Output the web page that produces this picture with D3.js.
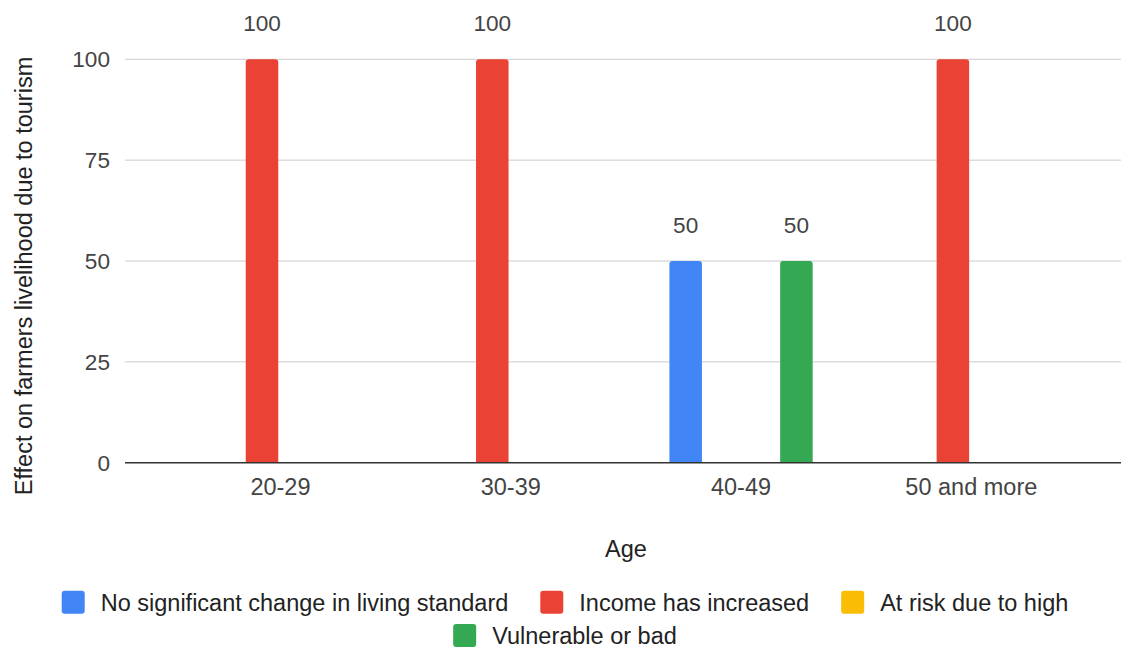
<!DOCTYPE html>
<html>
<head>
<meta charset="utf-8">
<script src="https://cdn.jsdelivr.net/npm/d3@7"></script>
<style>
  html, body { margin: 0; padding: 0; background: #fff; }
  svg { display: block; font-family: "Liberation Sans", Arial, sans-serif; }
</style>
</head>
<body>
<svg id="chart" width="1121" height="651"></svg>
<script>
// ---- data ----
const categories = ["20-29", "30-39", "40-49", "50 and more"];
const seriesNames = ["No significant change in living standard", "Income has increased", "At risk due to high", "Vulnerable or bad"];
const seriesColors = ["#4285f4", "#ea4335", "#fbbc04", "#34a853"];
const noChange   = [0, 0, 50, 0];
const incomeUp   = [100, 100, 0, 100];
const atRisk     = [0, 0, 0, 0];
const vulnerable = [0, 0, 50, 0];
const yTicks = [0, 25, 50, 75, 100];
const xTitle = "Age";
const yTitle = "Effect on farmers livelihood due to tourism";

const seriesValues = [noChange, incomeUp, atRisk, vulnerable];

// ---- layout ----
const svg = d3.select("#chart");
const FS = 22.6, FS_T = 23.5;
const plotLeft = 125, plotRight = 1121, plotTop = 59.3, plotBottom = 462.7;

const x0 = d3.scaleBand().domain(categories).range([165.3, 1086.5])
  .paddingInner(0.378).paddingOuter(0.189);
const x1 = d3.scaleBand().domain(d3.range(seriesNames.length)).range([0, x0.bandwidth()])
  .paddingInner(0.119).paddingOuter(0);
const y = d3.scaleLinear().domain([0, 100]).range([plotBottom, plotTop]);

// gridlines
svg.append("g").selectAll("line").data(yTicks.filter(d => d !== 0)).join("line")
  .attr("x1", plotLeft).attr("x2", plotRight)
  .attr("y1", d => y(d)).attr("y2", d => y(d))
  .attr("stroke", "#cccccc").attr("stroke-width", 1);

// y tick labels
svg.append("g").selectAll("text").data(yTicks).join("text")
  .attr("x", 110).attr("y", d => y(d)).attr("dy", "0.36em")
  .attr("text-anchor", "end").attr("font-size", FS).attr("fill", "#444")
  .text(d => d);

// bars
function barPath(x, yTop, w, h, r) {
  if (h <= 0) return "";
  r = Math.min(r, h, w / 2);
  return `M${x},${yTop + h}V${yTop + r}Q${x},${yTop} ${x + r},${yTop}H${x + w - r}Q${x + w},${yTop} ${x + w},${yTop + r}V${yTop + h}Z`;
}
const barData = [];
categories.forEach((c, ci) => {
  seriesValues.forEach((vals, si) => {
    barData.push({ cat: c, s: si, v: vals[ci] });
  });
});
svg.append("g").selectAll("path").data(barData.filter(d => d.v > 0)).join("path")
  .attr("d", d => barPath(x0(d.cat) + x1(d.s), y(d.v), x1.bandwidth(), y(0) - y(d.v), 3))
  .attr("fill", d => seriesColors[d.s]);

// value labels
svg.append("g").selectAll("text").data(barData.filter(d => d.v > 0)).join("text")
  .attr("x", d => x0(d.cat) + x1(d.s) + x1.bandwidth() / 2)
  .attr("y", d => y(d.v) - 28)
  .attr("text-anchor", "middle").attr("font-size", FS).attr("fill", "#444")
  .text(d => d.v);

// baseline
svg.append("line").attr("x1", plotLeft).attr("x2", plotRight)
  .attr("y1", y(0)).attr("y2", y(0)).attr("stroke", "#333").attr("stroke-width", 1.5);

// x category labels
svg.append("g").selectAll("text").data(categories).join("text")
  .attr("x", d => x0(d) + x0.bandwidth() / 2).attr("y", 495)
  .attr("text-anchor", "middle").attr("font-size", FS_T).attr("fill", "#444")
  .text(d => d);

// axis titles
svg.append("text").attr("x", 626).attr("y", 556.5).attr("text-anchor", "middle")
  .attr("font-size", FS_T).attr("fill", "#222").text(xTitle);
svg.append("text").attr("transform", "translate(31.5,276) rotate(-90)")
  .attr("text-anchor", "middle").attr("font-size", FS_T).attr("fill", "#222").text(yTitle);

// legend
const legend = svg.append("g");
const sw = 23, gapText = 16, gapItem = 32, maxRow = 1060, centerX = 565;
const items = seriesNames.map((n, i) => {
  const t = legend.append("text").attr("font-size", FS_T).attr("fill", "#222").text(n);
  return { i, t, w: t.node().getComputedTextLength() };
});
const rows = [[]];
let cur = 0;
items.forEach(it => {
  const iw = sw + gapText + it.w;
  const add = (rows[rows.length - 1].length ? gapItem : 0) + iw;
  if (cur + add > maxRow && rows[rows.length - 1].length) { rows.push([it]); cur = iw; }
  else { rows[rows.length - 1].push(it); cur += add; }
});
rows.forEach((row, ri) => {
  const total = d3.sum(row, it => sw + gapText + it.w) + gapItem * (row.length - 1);
  let xx = centerX - total / 2;
  const base = 610.7 + ri * 33.3;
  row.forEach(it => {
    legend.append("rect").attr("x", xx).attr("y", base - 20).attr("width", sw).attr("height", sw)
      .attr("rx", 3).attr("fill", seriesColors[it.i]);
    it.t.attr("x", xx + sw + gapText).attr("y", base);
    xx += sw + gapText + it.w + gapItem;
  });
});
</script>
</body>
</html>
